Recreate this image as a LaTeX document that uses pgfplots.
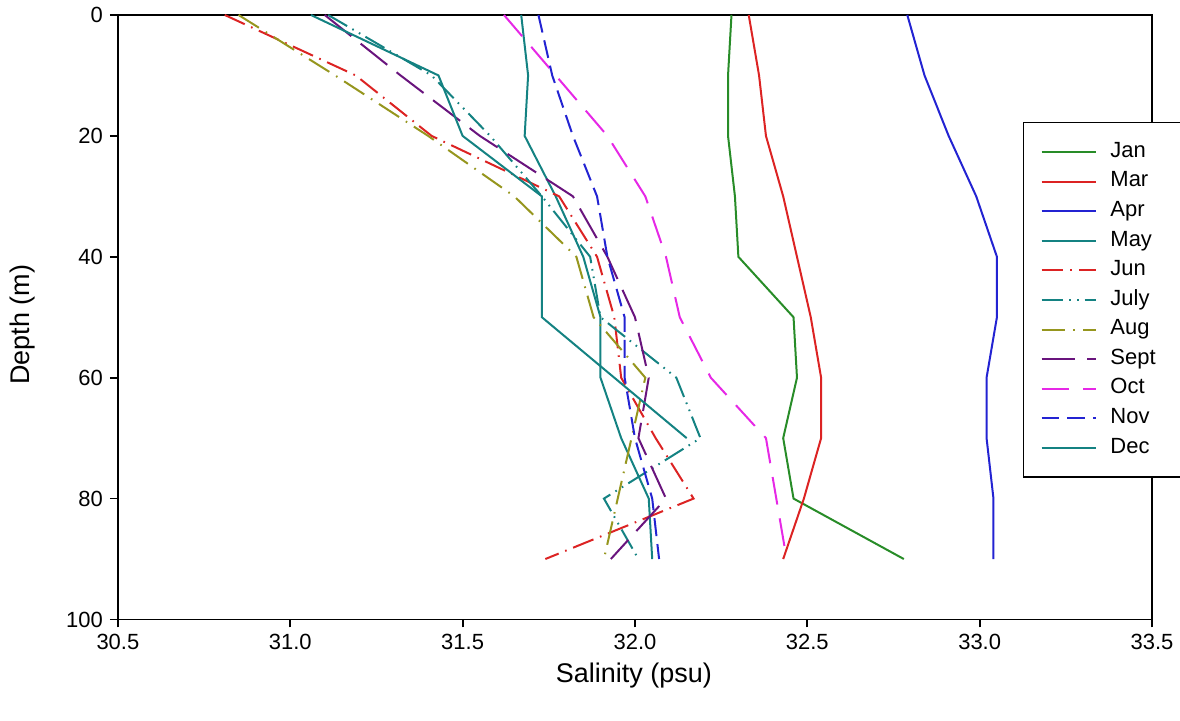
\documentclass[border=0pt]{standalone}
\usepackage{fontspec}
\setmainfont{Liberation Sans}
\usepackage{pgfplots}
\pgfplotsset{compat=1.18}
\usepackage{pgfplotstable}
\usetikzlibrary{calc}

\definecolor{cgreen}{RGB}{40,140,40}
\definecolor{cred}{RGB}{220,35,35}
\definecolor{cblue}{RGB}{35,35,210}
\definecolor{cteal}{RGB}{20,130,130}
\definecolor{colive}{RGB}{150,150,30}
\definecolor{cpurple}{RGB}{105,20,125}
\definecolor{cmagenta}{RGB}{230,40,230}

% depth (m) vs salinity (psu), one column per month
\pgfplotstableread{
depth Jan   Mar   Apr   May   Jun   Jul   Aug   Sep   Oct   Nov
0     32.28 32.33 32.79 31.67 30.81 31.11 30.85 31.10 31.62 31.72
10    32.27 32.36 32.84 31.69 31.19 31.41 31.13 31.32 31.77 31.76
20    32.27 32.38 32.91 31.68 31.41 31.58 31.40 31.55 31.92 31.82
30    32.29 32.43 32.99 31.77 31.78 31.73 31.65 31.82 32.03 31.89
40    32.30 32.47 33.05 31.85 31.89 31.87 31.83 31.92 32.09 31.92
50    32.46 32.51 33.05 31.90 31.94 31.90 31.88 32.00 32.13 31.97
60    32.47 32.54 33.02 31.90 31.96 32.12 32.03 32.04 32.22 31.97
70    32.43 32.54 33.02 31.96 32.06 32.19 31.99 32.01 32.38 32.00
80    32.46 32.49 33.04 32.04 32.17 31.91 31.95 32.09 32.41 32.05
90    32.78 32.43 33.04 32.05 31.74 32.01 31.91 31.93 32.44 32.07
}\salinity

\pgfplotstableread{
depth Dec
0     31.06
10    31.43
20    31.50
30    31.73
40    31.73
50    31.73
60    31.94
70    32.15
}\decdata

\begin{document}
\begin{tikzpicture}
\begin{axis}[
  scale only axis, width=517.5pt, height=302.5pt,
  xmin=30.5, xmax=33.5, ymin=0, ymax=100, y dir=reverse,
  xtick={30.5,31,31.5,32,32.5,33,33.5},
  ytick={0,20,40,60,80,100},
  xticklabel style={/pgf/number format/.cd, fixed, fixed zerofill, precision=1},
  /pgf/number format/assume math mode=true,
  tick pos=left, tick align=outside, major tick length=4pt,
  axis line style={line width=0.9pt},
  every tick/.style={black, line width=0.9pt},
  ticklabel style={font=\fontsize{11}{13}\selectfont},
  xlabel={Salinity (psu)}, ylabel={Depth (m)},
  every axis x label/.style={at={(axis description cs:0.499,-0.0926)}, anchor=center,
    font=\fontsize{13.5}{16}\selectfont},
  every axis y label/.style={at={(axis description cs:-0.0923,0.4876)}, anchor=center,
    rotate=90, font=\fontsize{13.5}{16}\selectfont},
  no markers,
  every axis plot/.append style={line width=1pt},
  legend image code/.code={\draw[#1] (0pt,0pt) -- (27.5pt,0pt);},
  legend cell align=left,
  legend style={at={(axis description cs:0.875,0.823)}, anchor=north west,
    draw=black, line width=0.75pt, fill=white,
    font=\fontsize{11}{13}\selectfont,
    inner xsep=8.5pt, inner ysep=7.3pt, row sep=0pt,
    nodes={text height=7.2pt, text depth=2pt, inner ysep=2.8pt, inner xsep=2pt, text width=45pt},
    /tikz/every odd column/.append style={column sep=4.5pt}},
]
\addplot[cgreen] table[x=Jan, y=depth] {\salinity};
\addlegendentry{Jan}
\addplot[cred] table[x=Mar, y=depth] {\salinity};
\addlegendentry{Mar}
\addplot[cblue] table[x=Apr, y=depth] {\salinity};
\addlegendentry{Apr}
\addplot[cteal] table[x=May, y=depth] {\salinity};
\addlegendentry{May}
\addplot[cred, dash pattern=on 11pt off 3.5pt on 0.8pt off 3.5pt] table[x=Jun, y=depth] {\salinity};
\addlegendentry{Jun}
\addplot[cteal, dash pattern=on 11pt off 3pt on 0.8pt off 3pt on 0.8pt off 3pt] table[x=Jul, y=depth] {\salinity};
\addlegendentry{July}
\addplot[colive, dash pattern=on 12pt off 4pt on 0.8pt off 4pt] table[x=Aug, y=depth] {\salinity};
\addlegendentry{Aug}
\addplot[cpurple, dash pattern=on 17pt off 6pt] table[x=Sep, y=depth] {\salinity};
\addlegendentry{Sept}
\addplot[cmagenta, dash pattern=on 14pt off 7pt] table[x=Oct, y=depth] {\salinity};
\addlegendentry{Oct}
\addplot[cblue, dash pattern=on 9pt off 4pt] table[x=Nov, y=depth] {\salinity};
\addlegendentry{Nov}
\addplot[cteal] table[x=Dec, y=depth] {\decdata};
\addlegendentry{Dec}
\coordinate (bl) at (axis cs:30.5,100);
\coordinate (tr) at (axis cs:33.5,0);
\end{axis}
\pgfresetboundingbox
\useasboundingbox ($(bl)+(-59pt,-50.5pt)$) rectangle ($(tr)+(14pt,7.5pt)$);
\end{tikzpicture}
\end{document}
